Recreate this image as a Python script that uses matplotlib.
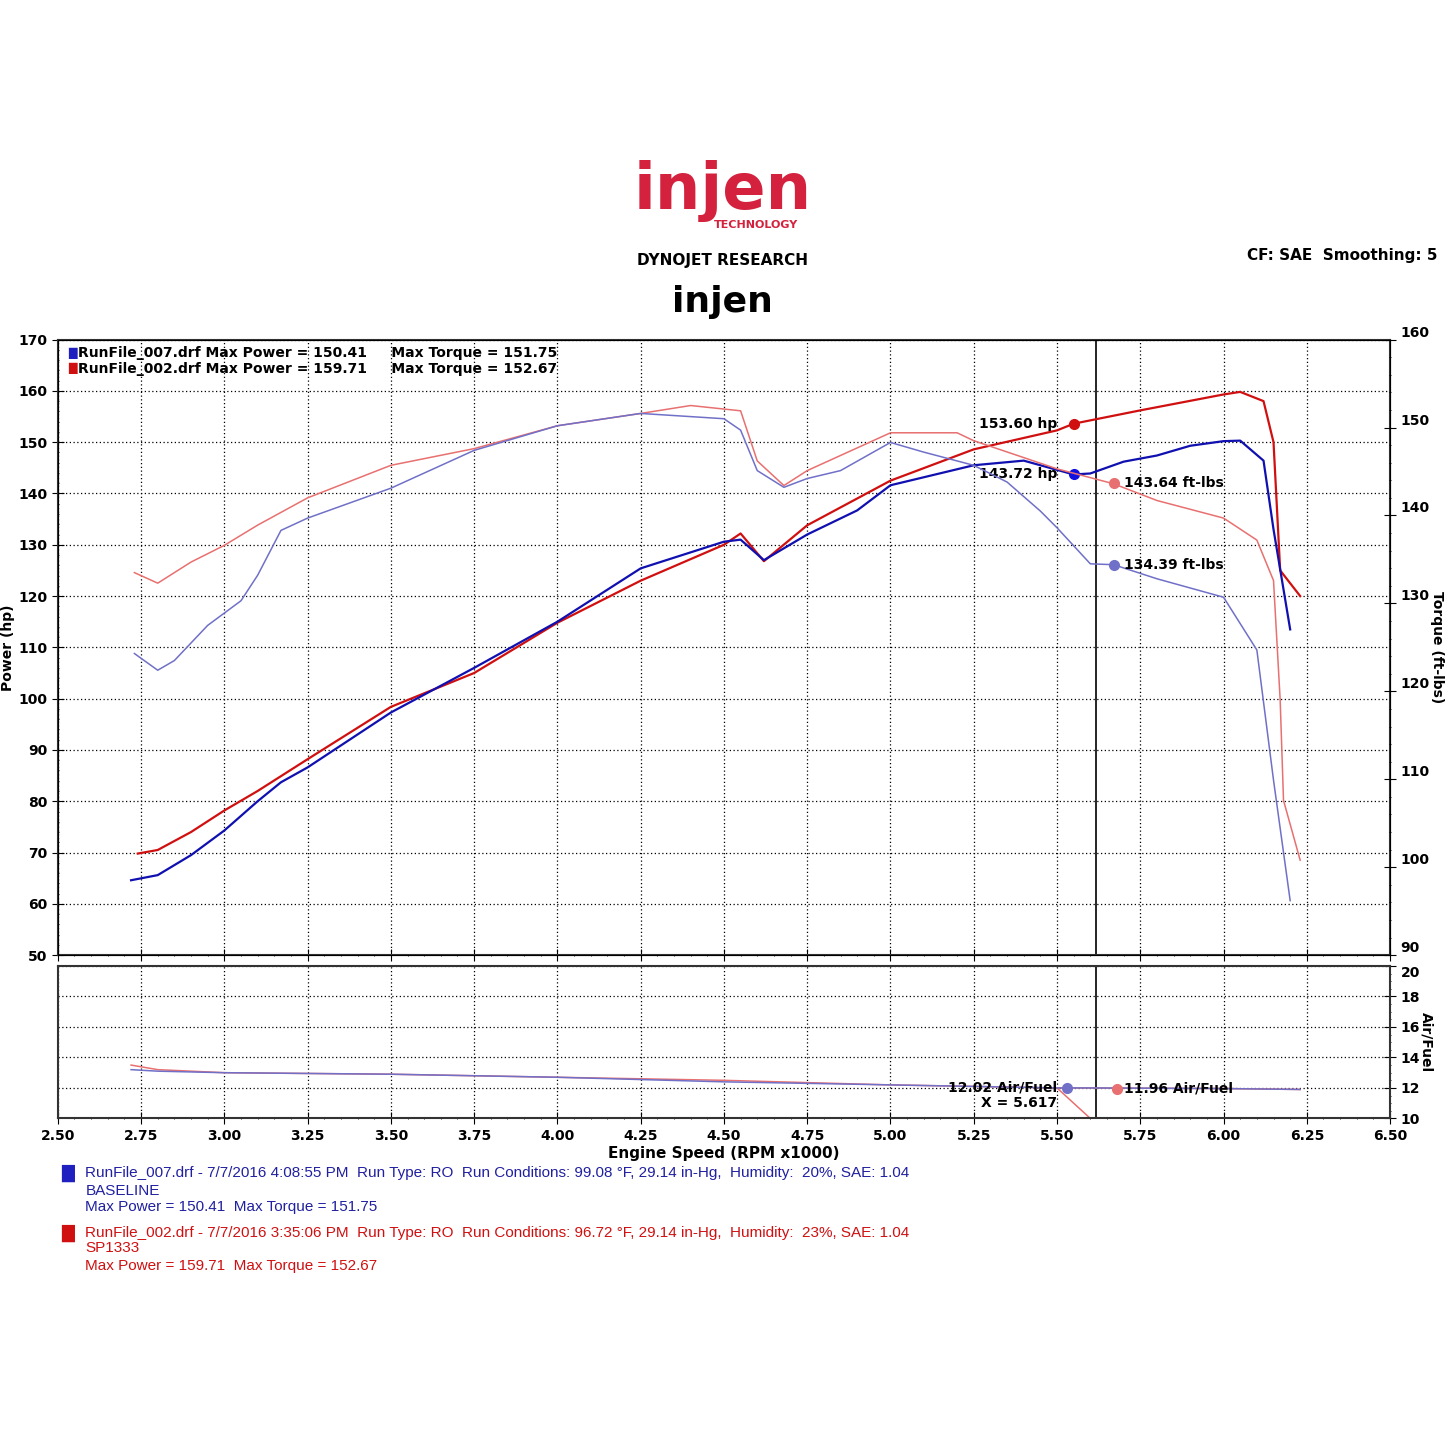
import numpy as np
import matplotlib.pyplot as plt
from matplotlib.ticker import MultipleLocator

plt.rcParams['font.family'] = ['Verdana', 'DejaVu Sans']

# engine speed (rpm x1000) and power (hp)
rpm_red_hp = [2.74, 2.8, 2.9, 3.0, 3.1, 3.25, 3.5, 3.75, 4.0, 4.25, 4.5, 4.55, 4.62, 4.75, 5.0, 5.25, 5.5, 5.55, 5.75, 6.0, 6.05, 6.12, 6.15, 6.17, 6.23]
red_hp = [69.8, 70.5, 74.0, 78.2, 82.0, 88.2, 98.4, 105.0, 114.8, 123.0, 130.0, 132.2, 126.8, 133.8, 142.5, 148.6, 152.3, 153.6, 156.2, 159.3, 159.8, 158.0, 150.0, 125.0, 120.0]
rpm_blue_hp = [2.72, 2.8, 2.9, 3.0, 3.1, 3.17, 3.25, 3.5, 3.75, 4.0, 4.25, 4.5, 4.55, 4.62, 4.75, 4.9, 5.0, 5.25, 5.4, 5.55, 5.6, 5.7, 5.8, 5.9, 6.0, 6.05, 6.12, 6.15, 6.2]
blue_hp = [64.6, 65.6, 69.5, 74.3, 80.0, 83.7, 86.6, 97.3, 106.0, 115.0, 125.4, 130.6, 131.0, 127.0, 132.0, 136.7, 141.6, 145.5, 146.4, 143.7, 143.9, 146.2, 147.4, 149.3, 150.2, 150.3, 146.4, 133.0, 113.5]

# torque (ft-lbs)
rpm_red_tq = [2.73, 2.8, 2.9, 3.0, 3.1, 3.25, 3.5, 3.75, 4.0, 4.25, 4.4, 4.55, 4.6, 4.68, 4.75, 5.0, 5.2, 5.25, 5.5, 5.67, 5.8, 6.0, 6.1, 6.15, 6.17, 6.18, 6.23]
red_tq = [133.5, 132.3, 134.7, 136.6, 138.9, 142.0, 145.7, 147.6, 150.2, 151.6, 152.5, 151.9, 146.2, 143.4, 145.1, 149.4, 149.4, 148.5, 145.3, 143.6, 141.7, 139.7, 137.2, 132.6, 119.0, 107.6, 100.8]
rpm_blue_tq = [2.73, 2.8, 2.85, 2.95, 3.05, 3.1, 3.17, 3.25, 3.5, 3.75, 4.0, 4.25, 4.5, 4.55, 4.6, 4.68, 4.75, 4.85, 5.0, 5.1, 5.25, 5.35, 5.45, 5.5, 5.6, 5.67, 5.8, 6.0, 6.1, 6.15, 6.2]
blue_tq = [124.3, 122.4, 123.5, 127.5, 130.3, 133.2, 138.3, 139.7, 143.1, 147.4, 150.2, 151.6, 151.0, 149.7, 145.1, 143.2, 144.2, 145.1, 148.3, 147.2, 145.7, 143.8, 140.5, 138.6, 134.5, 134.4, 132.8, 130.7, 124.7, 109.9, 96.2]

# air/fuel
rpm_red_af = [2.72, 2.8, 3.0, 3.5, 4.0, 4.5, 5.0, 5.5, 5.6, 6.0, 6.23]
red_af = [13.5, 13.2, 13.0, 12.9, 12.7, 12.5, 12.2, 12.0, 12.0, 11.96, 11.9]
rpm_red_af_drop = [5.5, 5.6]
red_af_drop = [12.0, 10.0]
rpm_blue_af = [2.72, 2.8, 3.0, 3.5, 4.0, 4.5, 5.0, 5.5, 5.6, 6.0, 6.23]
blue_af = [13.2, 13.1, 13.0, 12.9, 12.7, 12.4, 12.2, 12.0, 12.0, 11.96, 11.9]

cursor = 5.617
DRED, LRED, DBLUE, LBLUE = '#d01010', '#e87070', '#1010b0', '#7070c8'

fig = plt.figure(figsize=(14.45, 14.45), dpi=100)

def style(ax, ymaj, ymin):
    ax.set_xlim(2.5, 6.5)
    ax.xaxis.set_major_locator(MultipleLocator(0.25))
    ax.xaxis.set_minor_locator(MultipleLocator(0.05))
    ax.yaxis.set_major_locator(MultipleLocator(ymaj))
    ax.yaxis.set_minor_locator(MultipleLocator(ymin))
    ax.grid(True, which='major', color='black', linestyle=(0, (1, 2)), linewidth=0.9)
    ax.tick_params(which='both', direction='inout', labelsize=10)
    ax.tick_params(which='major', length=8)
    for s in ax.spines.values():
        s.set_linewidth(1.5)
        s.set_color('#333333')
    ax.axvline(cursor, color='black', linewidth=1.2)

ax = fig.add_axes([0.040, 0.339, 0.922, 0.426])
style(ax, 10, 2)
ax.set_ylim(50, 170)
ax.set_xticklabels([])
ax.plot(rpm_red_hp, red_hp, color=DRED, lw=1.6)
ax.plot(rpm_blue_hp, blue_hp, color=DBLUE, lw=1.6)
ax.set_ylabel('Power (hp)', fontsize=10, fontweight='bold', labelpad=2)
for lab in ax.get_yticklabels():
    lab.set_fontweight('bold')

ax2 = ax.twinx()
ax2.set_ylim(90, 160)
ax2.yaxis.set_major_locator(MultipleLocator(10))
ax2.yaxis.set_minor_locator(MultipleLocator(2))
ax2.tick_params(which='both', direction='inout', labelsize=10)
ax2.tick_params(which='major', length=8)
ax2.plot(rpm_red_tq, red_tq, color=LRED, lw=1.1)
ax2.plot(rpm_blue_tq, blue_tq, color=LBLUE, lw=1.1)
ax2.set_ylabel('Torque (ft-lbs)', fontsize=10, fontweight='bold', rotation=270, labelpad=10)
for lab in ax2.get_yticklabels():
    lab.set_fontweight('bold')
    lab.set_verticalalignment('bottom')

# cursor markers
ax.plot([5.55], [153.6], 'o', color=DRED, ms=7)
ax.text(5.5, 153.6, '153.60 hp', ha='right', va='center', fontsize=10, fontweight='bold')
ax.plot([5.55], [143.72], 'o', color='#1010e0', ms=7)
ax.text(5.5, 143.72, '143.72 hp', ha='right', va='center', fontsize=10, fontweight='bold')
ax2.plot([5.67], [143.64], 'o', color=LRED, ms=7)
ax2.text(5.7, 143.64, '143.64 ft-lbs', ha='left', va='center', fontsize=10, fontweight='bold')
ax2.plot([5.67], [134.39], 'o', color=LBLUE, ms=7)
ax2.text(5.7, 134.39, '134.39 ft-lbs', ha='left', va='center', fontsize=10, fontweight='bold')

ax.text(2.53, 167.3, '█', color='#2020c0', fontsize=8, va='center')
ax.text(2.53, 164.3, '█', color='#d01010', fontsize=8, va='center')
ax.text(2.56, 167.3, 'RunFile_007.drf Max Power = 150.41     Max Torque = 151.75', fontsize=10, fontweight='bold', va='center')
ax.text(2.56, 164.3, 'RunFile_002.drf Max Power = 159.71     Max Torque = 152.67', fontsize=10, fontweight='bold', va='center')

# air/fuel panel
bx = fig.add_axes([0.040, 0.226, 0.922, 0.1055])
style(bx, 2, 0.5)
bx.set_ylim(10, 20)
bx.yaxis.tick_right()
bx.yaxis.set_label_position('right')
bx.set_ylabel('Air/Fuel', fontsize=10, fontweight='bold', rotation=270, labelpad=10)
bx.plot(rpm_red_af, red_af, color=LRED, lw=1.1)
bx.plot(rpm_red_af_drop, red_af_drop, color=LRED, lw=1.1)
bx.plot(rpm_blue_af, blue_af, color=LBLUE, lw=1.1)
bx.plot([5.53], [12.02], 'o', color=LBLUE, ms=7)
bx.plot([5.68], [11.96], 'o', color=LRED, ms=7)
bx.text(5.5, 12.02, '12.02 Air/Fuel', ha='right', va='center', fontsize=10, fontweight='bold')
bx.text(5.5, 11.0, 'X = 5.617', ha='right', va='center', fontsize=10, fontweight='bold')
bx.text(5.7, 11.96, '11.96 Air/Fuel', ha='left', va='center', fontsize=10, fontweight='bold')
bx.set_yticks([10, 12, 14, 16, 18, 20])
bx.set_xticks(np.arange(2.5, 6.51, 0.25))
bx.set_xticklabels([f'{v:.2f}' for v in np.arange(2.5, 6.51, 0.25)])
for lab in bx.get_xticklabels() + bx.get_yticklabels():
    lab.set_fontweight('bold')
for lab in bx.get_yticklabels()[-1:]:
    lab.set_verticalalignment('top')
bx.set_xlabel('Engine Speed (RPM x1000)', fontsize=11, fontweight='bold', labelpad=2)

# header
fig.text(0.5, 0.868, 'injen', color='#d4213d', fontsize=46, fontweight='bold', ha='center', va='center')
fig.text(0.552, 0.8445, 'TECHNOLOGY', color='#d4213d', fontsize=8, fontweight='bold', ha='right', va='center')
fig.text(0.5, 0.820, 'DYNOJET RESEARCH', fontsize=11, fontweight='bold', ha='center', va='center')
fig.text(0.5, 0.791, 'injen', fontsize=26, fontweight='bold', ha='center', va='center', family='DejaVu Sans')
fig.text(0.995, 0.823, 'CF: SAE  Smoothing: 5', fontsize=11, fontweight='bold', ha='right', va='center')

# footer
fig.text(0.042, 0.188, '█', color='#2020c0', fontsize=12, va='center')
fig.text(0.059, 0.188, 'RunFile_007.drf - 7/7/2016 4:08:55 PM  Run Type: RO  Run Conditions: 99.08 \u00b0F, 29.14 in-Hg,  Humidity:  20%, SAE: 1.04', color='#2020a0', fontsize=11, va='center', family='Liberation Sans')
fig.text(0.059, 0.176, 'BASELINE', color='#2020a0', fontsize=11, va='center', family='Liberation Sans')
fig.text(0.059, 0.165, 'Max Power = 150.41  Max Torque = 151.75', color='#2020a0', fontsize=11, va='center', family='Liberation Sans')
fig.text(0.042, 0.147, '█', color='#d01010', fontsize=12, va='center')
fig.text(0.059, 0.147, 'RunFile_002.drf - 7/7/2016 3:35:06 PM  Run Type: RO  Run Conditions: 96.72 \u00b0F, 29.14 in-Hg,  Humidity:  23%, SAE: 1.04', color='#d01010', fontsize=11, va='center', family='Liberation Sans')
fig.text(0.059, 0.136, 'SP1333', color='#d01010', fontsize=11, va='center', family='Liberation Sans')
fig.text(0.059, 0.124, 'Max Power = 159.71  Max Torque = 152.67', color='#d01010', fontsize=11, va='center', family='Liberation Sans')

fig.savefig('out.png', dpi=100)
